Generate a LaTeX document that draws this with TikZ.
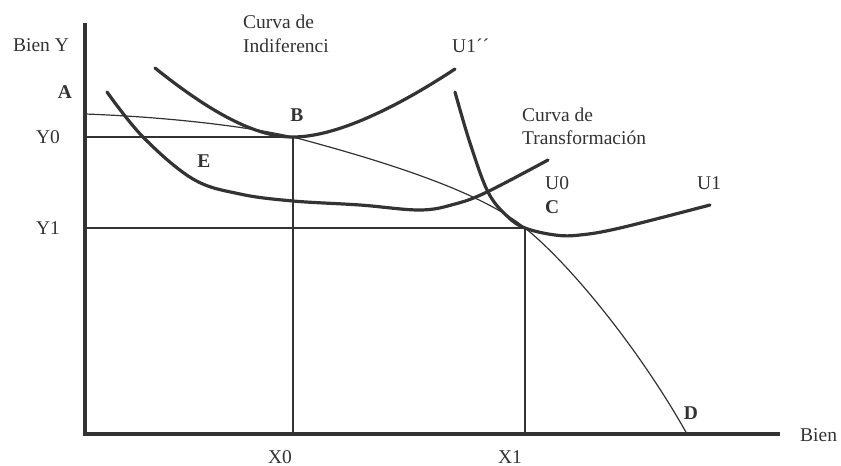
\documentclass[tikz,border=0pt]{standalone}
\usepackage{fontspec}
\setmainfont{Liberation Serif}
\begin{document}
\begin{tikzpicture}[x=1pt,y=-1pt,
  ink/.style={color=black!80},
  axis/.style={ink,line width=3.2pt},
  thin/.style={ink,line width=1.2pt},
  curve/.style={ink,line width=3.2pt,line cap=round},
  lbl/.style={ink,inner sep=0pt,font=\fontsize{19.5}{22}\selectfont},
  blbl/.style={lbl,font=\fontsize{19.5}{22}\selectfont\bfseries}]
\useasboundingbox (0,0) rectangle (841,466);
% axes
\coordinate (O) at (85,434);
\coordinate (ytop) at (85,23);
\coordinate (xend) at (780,434);
\draw[axis] (ytop) -- (O) -- (xend);
% key points
\coordinate (Ay) at (85,114);
\coordinate (B) at (293,137);
\coordinate (C) at (525,228);
\coordinate (Dp) at (687,434);
\coordinate (Y0a) at (85,137);
\coordinate (Y1a) at (85,228);
\coordinate (X0a) at (293,434);
\coordinate (X1a) at (525,434);
% guide lines
\draw[thin] (Y0a) -- (B) -- (X0a);
\draw[thin] (Y1a) -- (C) -- (X1a);
% transformation curve
\draw[thin] (Ay) .. controls (170,117) and (250,127) .. (B)
  .. controls (360,155) and (475,187) .. (C)
  .. controls (570,264) and (640,350) .. (Dp);
% U1'' curve
\draw[curve] (155,68) .. controls (210,112) and (255,137) .. (B) .. controls (340,137) and (405,102) .. (455,69);
% U0 curve
\draw[curve] plot[smooth,tension=0.6] coordinates {(107,92) (143,137) (193,179) (240,194) (293,201) (360,205) (420,210) (455,204) (487,192) (548,160)};
% U1 curve
\draw[curve] plot[smooth,tension=0.6] coordinates {(455,92) (470,143) (488,192) (507,216) (C) (555,235) (580,235) (620,228) (710,205)};
% labels
\node[lbl] (biy) at (41,45) {Bien Y};
\node[blbl] (lA) at (65,92) {A};
\node[lbl] (lY0) at (48,137) {Y0};
\node[lbl] (lY1) at (48,228) {Y1};
\node[blbl] (lB) at (297,115) {B};
\node[blbl] (lE) at (204,161) {E};
\node[lbl,anchor=west] (ci1) at (243,22) {Curva de};
\node[lbl,anchor=west] (ci2) at (243,46) {Indiferenci};
\node[lbl,anchor=west] (lU1pp) at (452,46) {U1´´};
\node[lbl,anchor=west] (ct1) at (522,115) {Curva de};
\node[lbl,anchor=west] (ct2) at (522,138) {Transformación};
\node[lbl,anchor=west] (lU0) at (545,183) {U0};
\node[blbl,anchor=west] (lC) at (545,207) {C};
\node[lbl,anchor=west] (lU1) at (697,183) {U1};
\node[lbl] (lX0) at (280,457) {X0};
\node[lbl] (lX1) at (510,457) {X1};
\node[blbl] (lD) at (691,413) {D};
\node[lbl,anchor=west] (bien) at (800,435) {Bien};
\end{tikzpicture}
\end{document}
